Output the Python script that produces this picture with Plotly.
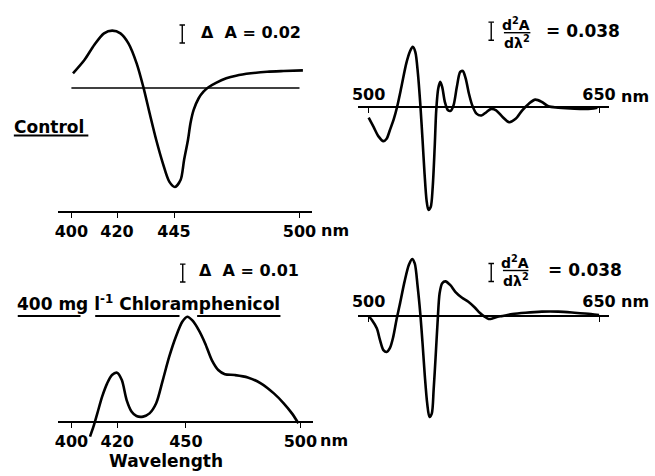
import plotly.graph_objects as go

W, H = 655, 476
FONT = "DejaVu Sans"

# ---------------- data ----------------
# Control, difference spectrum (Delta A)
CTRL_NM = [400.7, 405.7, 410.0, 414.3, 417.9, 421.5, 425.0, 428.6, 431.5, 434.3,
           437.2, 440.1, 442.9, 445.4, 447.9, 449.4, 451.1, 452.2, 453.6, 455.8,
           457.9, 460.1, 463.6, 467.9, 472.2, 478.7, 485.8, 493.0, 501.5]
CTRL_DA = [0.0163, 0.0311, 0.0478, 0.0607, 0.0637, 0.0607, 0.0496, 0.0274, 0.0015, -0.0281,
           -0.0578, -0.0837, -0.104, -0.110, -0.102, -0.080, -0.0578, -0.0392, -0.0244, -0.0114,
           -0.0041, 0.0008, 0.0059, 0.0108, 0.0137, 0.0163, 0.0181, 0.0189, 0.0196]

# Control, second derivative
CTRL_D2_NM = [500.0, 503.2, 506.4, 509.6, 511.7, 513.8, 516.4, 518.5, 521.3, 524.5,
              527.0, 528.7, 530.4, 532.1, 533.6, 535.1, 536.4, 537.7, 538.9, 540.4,
              541.7, 543.0, 544.0, 545.3, 546.6, 547.9, 549.6, 551.7, 553.4, 555.3,
              557.4, 559.6, 561.3, 563.2, 565.3, 567.4, 570.2, 573.4, 576.6, 579.8,
              583.0, 587.2, 591.5, 595.7, 600.0, 604.3, 608.5, 612.8, 617.0, 623.4,
              634.0, 644.7, 648.9]
CTRL_D2 = [-0.0225, -0.042, -0.062, -0.072, -0.067, -0.049, -0.025, 0.0, 0.042, 0.092,
           0.118, 0.127, 0.116, 0.070, 0.007, -0.070, -0.141, -0.197, -0.217, -0.211,
           -0.169, -0.084, -0.007, 0.039, 0.053, 0.042, 0.011, -0.007, -0.008, 0.004,
           0.042, 0.074, 0.076, 0.060, 0.028, 0.004, -0.014, -0.018, -0.011, -0.004,
           -0.007, -0.021, -0.032, -0.025, -0.007, 0.007, 0.0155, 0.0106, 0.0014, -0.0014,
           -0.0035, -0.0035, -0.0014]

# Chloramphenicol, difference spectrum
CAP_NM = [408.1, 409.6, 411.3, 413.4, 415.6, 417.7, 419.9, 422.0, 424.1, 426.3,
          428.4, 431.3, 434.1, 437.0, 439.9, 442.7, 445.6, 448.4, 450.6, 452.7,
          455.6, 458.4, 461.3, 464.1, 467.0, 471.3, 477.0, 482.7, 488.4, 492.7,
          496.3, 499.1]
CAP_DA = [-0.0081, -0.0026, 0.0048, 0.0141, 0.0215, 0.0261, 0.0274, 0.0233, 0.0122, 0.0057,
          0.0033, 0.0030, 0.0048, 0.0104, 0.0233, 0.0363, 0.0474, 0.0557, 0.0585, 0.0566,
          0.0511, 0.0437, 0.0344, 0.0289, 0.0266, 0.0261, 0.0248, 0.0215, 0.0159, 0.0104,
          0.0048, -0.0007]

# Chloramphenicol, second derivative
CAP_D2_NM = [500.0, 502.1, 505.3, 507.4, 509.6, 511.7, 513.8, 516.0, 518.1, 520.2,
             523.4, 526.2, 528.3, 530.0, 531.9, 533.6, 535.1, 536.6, 538.1, 539.6,
             541.1, 542.3, 543.6, 544.9, 546.2, 547.9, 550.0, 553.2, 556.4, 560.6,
             564.9, 569.1, 572.3, 575.5, 578.1, 580.9, 584.0, 587.2, 593.6, 602.1,
             612.8, 623.4, 634.0, 644.7, 650.0]
CAP_D2 = [0.0, -0.0085, -0.026, -0.051, -0.072, -0.076, -0.068, -0.044, -0.0085, 0.023,
          0.073, 0.108, 0.120, 0.111, 0.062, 0.0056, -0.058, -0.128, -0.184, -0.213,
          -0.206, -0.156, -0.086, -0.012, 0.048, 0.069, 0.073, 0.065, 0.051, 0.039,
          0.030, 0.018, 0.007, -0.0014, -0.0063, -0.0049, -0.0014, 0.0, 0.0042, 0.007,
          0.0092, 0.0092, 0.007, 0.0042, 0.002]

TICKS_CTRL = [400, 420, 445, 500]
TICKS_CAP = [400, 420, 450, 500]
TICKS_D2 = [500, 650]
BASELINE_NM = [400, 500]
SCALE_CTRL = 0.02
SCALE_CAP = 0.01
SCALE_D2 = 0.038


def X(px):
    return px / W


def Y(py):
    return 1 - py / H


fig = go.Figure()
line = dict(color="black", width=2.6, shape="spline", smoothing=0.8)
fig.add_trace(go.Scatter(x=CTRL_NM, y=CTRL_DA, mode="lines", line=line, xaxis="x", yaxis="y"))
fig.add_trace(go.Scatter(x=CTRL_D2_NM, y=CTRL_D2, mode="lines", line=line, xaxis="x2", yaxis="y2"))
fig.add_trace(go.Scatter(x=CAP_NM, y=CAP_DA, mode="lines", line=line, xaxis="x3", yaxis="y3"))
fig.add_trace(go.Scatter(x=CAP_D2_NM, y=CAP_D2, mode="lines", line=line, xaxis="x4", yaxis="y4"))

tickfont = dict(family=FONT, size=16, color="black", weight="bold")


def xax(rng, dom, pos, vals, side, ticks, standoff):
    return dict(range=rng, domain=dom, anchor="free", position=pos, side=side,
                showline=True, linecolor="black", linewidth=1.6, showgrid=False,
                zeroline=False, ticks=ticks, ticklen=5, tickwidth=1.4, tickcolor="black",
                tickvals=vals, ticktext=[str(v) for v in vals], tickfont=tickfont,
                ticklabelstandoff=standoff, fixedrange=True)


def yax(rng, dom):
    return dict(range=rng, domain=dom, visible=False, fixedrange=True, anchor="free", position=0)


left_rng = [394.1, 505.4]
right_rng = [492.98, 656.35]

fig.update_layout(
    width=W, height=H, margin=dict(l=0, r=0, t=0, b=0),
    paper_bgcolor="white", plot_bgcolor="rgba(0,0,0,0)", showlegend=False,
    xaxis=xax(left_rng, [X(53), X(312)], Y(212), TICKS_CTRL, "bottom", "outside", 0),
    yaxis=yax([(88 - 212) / 900, (88 - 20) / 900], [Y(212), Y(20)]),
    xaxis2=xax(right_rng, [X(359), X(615)], Y(107), TICKS_D2, "top", "inside", 0),
    yaxis2=yax([(107 - 222) * 0.00211, (107 - 12) * 0.00211], [Y(222), Y(12)]),
    xaxis3=xax(left_rng, [X(53), X(313)], Y(422), TICKS_CAP, "bottom", "outside", 0),
    yaxis3=yax([(422 - 445) * 0.000556, (422 - 252) * 0.000556], [Y(445), Y(252)]),
    xaxis4=xax(right_rng, [X(359), X(615)], Y(316), TICKS_D2, "top", "inside", 2),
    yaxis4=yax([(316 - 430) * 0.00211, (316 - 250) * 0.00211], [Y(430), Y(250)]),
)

shapes = []
# baseline of control spectrum
shapes.append(dict(type="line", xref="x", yref="y", x0=BASELINE_NM[0], x1=BASELINE_NM[1],
                   y0=0, y1=0, line=dict(color="black", width=1.3)))


def scale_bar(xr, yr, xc, yc, size, half):
    out = [dict(type="line", xref=xr, yref=yr, x0=xc, x1=xc, y0=yc - size / 2, y1=yc + size / 2,
                line=dict(color="black", width=1.4))]
    for yy in (yc - size / 2, yc + size / 2):
        out.append(dict(type="line", xref=xr, yref=yr, x0=xc - half, x1=xc + half, y0=yy, y1=yy,
                        line=dict(color="black", width=1.4)))
    return out


shapes += scale_bar("x", "y", 448.6, 0.06, SCALE_CTRL, 1.2)
shapes += scale_bar("x3", "y3", 448.6, 0.0828, SCALE_CAP, 1.2)
shapes += scale_bar("x2", "y2", 579.8, 0.160, SCALE_D2, 1.8)
shapes += scale_bar("x4", "y4", 579.8, 0.0918, SCALE_D2, 1.8)


def pline(x0, x1, y, w=1.8):
    return dict(type="line", xref="paper", yref="paper", x0=X(x0), x1=X(x1), y0=Y(y), y1=Y(y),
                line=dict(color="black", width=w))


# underlines
shapes.append(pline(8, 84, 135.5))
shapes.append(pline(12, 76, 316))
shapes.append(pline(91, 177, 316))
shapes.append(pline(195, 280, 316))
# fraction bars
shapes.append(pline(508, 535, 32.7, 1.4))
shapes.append(pline(507, 533, 270.5, 1.4))
fig.update_layout(shapes=shapes)


def ann(text, x, y, xa="left", size=16):
    return dict(text=text, x=X(x), y=Y(y), xref="paper", yref="paper", xanchor=xa,
                yanchor="middle", showarrow=False, font=dict(family=FONT, size=size, color="black"))


anns = [
    ann("<b>Δ  A = 0.02</b>", 197, 33),
    ann("<b>Control</b>", 6, 127, size=17),
    ann("<b>Δ  A = 0.01</b>", 195, 270),
    ann("<b>400 mg l<sup>-1</sup> Chloramphenicol</b>", 9, 303, size=17),
    ann("<b>Wavelength</b>", 163, 461, xa="center", size=17),
    ann("<b>nm</b>", 319, 230),
    ann("<b>nm</b>", 318, 440),
    ann("<b>nm</b>", 625, 97),
    ann("<b>nm</b>", 625, 301),
    ann("<b>d<sup>2</sup>A</b>", 520, 23.5, xa="center", size=14),
    ann("<b>dλ<sup>2</sup></b>", 521, 41.5, xa="center", size=14),
    ann("<b>= 0.038</b>", 549, 31, size=17),
    ann("<b>d<sup>2</sup>A</b>", 519, 261.5, xa="center", size=14),
    ann("<b>dλ<sup>2</sup></b>", 520, 279.5, xa="center", size=14),
    ann("<b>= 0.038</b>", 551, 269.5, size=17),
]
fig.update_layout(annotations=anns)

fig.write_html("out.html", config={"displayModeBar": False, "responsive": False})
